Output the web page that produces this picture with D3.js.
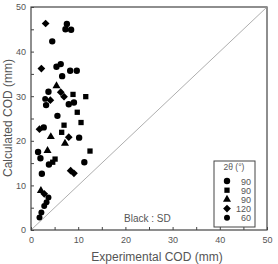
<!DOCTYPE html>
<html>
<head>
<meta charset="utf-8">
<script src="https://cdn.jsdelivr.net/npm/d3@7"></script>
<style>
  body { margin: 0; background: #fff; }
  svg text { font-family: "Liberation Sans", Arial, sans-serif; fill: #555; }
</style>
</head>
<body>
<div id="chart"></div>
<script>
// series: [experimental, calculated]
var circle90 = [[7.6,46.2],[7.3,45.0],[8.5,44.9],[4.5,42.3],[5.4,36.6],[6.3,37.2],[6.6,34.5],
    [8.3,35.7],[9.7,35.7],[3.7,31.0],[3.2,28.0],[8.0,28.2],[9.1,28.6],[5.6,25.6],[2.7,23.0],
    [10.2,20.7],[1.5,17.5],[2.0,16.1],[3.8,14.7],[11.3,15.2],[2.3,12.6]];
var square90 = [[8.9,30.4],[11.6,29.9],[9.8,26.4],[10.6,24.1],[7.0,23.5],[6.5,21.9],[12.5,17.7],
    [5.1,15.9],[4.6,15.2]];
var triangle90 = [[5.4,32.3],[4.2,20.9],[7.2,19.4],[3.5,17.8],[2.1,8.8]];
var diamond120 = [[3.1,46.3],[2.2,36.2],[6.3,30.9],[7.0,29.9],[4.1,29.1],[1.8,22.6],[8.0,20.8],
    [8.4,13.3],[9.1,12.7],[2.8,8.1]];
var hex60 = [[3.0,29.4],[3.7,7.3],[3.3,6.2],[2.8,5.4],[2.2,3.9],[1.8,2.8]];

var legendLabels = ["90", "90", "90", "120", "60"];

function drawChart() {
    var w = 278, h = 264;
    var padLeft = 31, padRight = 267, padTop = 7, padBottom = 230;

    var svg = d3.select("#chart").append("svg")
        .attr("width", w)
        .attr("height", h);

    var xScale = d3.scaleLinear().domain([0, 50]).range([padLeft, padRight]);
    var yScale = d3.scaleLinear().domain([0, 50]).range([padBottom, padTop]);

//frame
    svg.append("rect")
        .attr("x", padLeft).attr("y", padTop)
        .attr("width", padRight - padLeft).attr("height", padBottom - padTop)
        .attr("fill", "none").attr("stroke", "#444").attr("stroke-width", 1.2);

//1:1 line
    svg.append("line")
        .attr("x1", xScale(0)).attr("y1", yScale(0))
        .attr("x2", xScale(50)).attr("y2", yScale(50))
        .attr("stroke", "#999").attr("stroke-width", 0.8);

//axes, ticks every 5 pointing inward, labels every 10
    var fmt = function (d) { return d % 10 === 0 ? d : ""; };
    var xAxis = d3.axisBottom(xScale).tickValues(d3.range(0, 51, 5))
        .tickSize(-3).tickPadding(7).tickFormat(fmt);
    var yAxis = d3.axisLeft(yScale).tickValues(d3.range(0, 51, 5))
        .tickSize(-3).tickPadding(5).tickFormat(fmt);

    var gx = svg.append("g")
        .attr("transform", "translate(0," + padBottom + ")")
        .call(xAxis);
    var gy = svg.append("g")
        .attr("transform", "translate(" + padLeft + ",0)")
        .call(yAxis);
    [gx, gy].forEach(function (g) {
        g.select(".domain").remove();
        g.selectAll("line").attr("stroke", "#444");
        g.selectAll("text").style("font-size", "9px").attr("fill", "#666");
    });

//markers
    var series = [
        {data: circle90, type: d3.symbolCircle, size: 32, rot: 0},
        {data: square90, type: d3.symbolSquare, size: 28, rot: 0},
        {data: triangle90, type: d3.symbolTriangle, size: 28, rot: 0},
        {data: diamond120, type: d3.symbolSquare, size: 30, rot: 45},
        {data: hex60, type: d3.symbolCircle, size: 28, rot: 0}
    ];

    series.forEach(function (s) {
        svg.append("g").selectAll("path")
            .data(s.data)
            .enter()
            .append("path")
            .attr("d", d3.symbol().type(s.type).size(s.size))
            .attr("transform", function (d) {
                return "translate(" + xScale(d[0]) + "," + yScale(d[1]) + ") rotate(" + s.rot + ")";
            })
            .attr("fill", "#000");
    });

//annotation
    svg.append("text")
        .attr("x", 124).attr("y", 222)
        .style("font-size", "10px")
        .text("Black : SD");

//legend
    var lg = svg.append("g");
    lg.append("rect")
        .attr("x", 214).attr("y", 161)
        .attr("width", 41).attr("height", 66)
        .attr("fill", "#fff").attr("stroke", "#444").attr("stroke-width", 1);
    lg.append("text")
        .attr("x", 234).attr("y", 170)
        .attr("text-anchor", "middle")
        .style("font-size", "8.5px")
        .text("2\u03b8 (\u00b0)");
    legendLabels.forEach(function (lab, i) {
        var yy = 181 + i * 9.2;
        lg.append("path")
            .attr("d", d3.symbol().type(series[i].type).size(series[i].size))
            .attr("transform", "translate(227," + yy + ") rotate(" + series[i].rot + ")")
            .attr("fill", "#000");
        lg.append("text")
            .attr("x", 251).attr("y", yy + 3.5)
            .attr("text-anchor", "end")
            .style("font-size", "9px")
            .text(lab);
    });

//axis titles
    svg.append("text")
        .attr("x", 157).attr("y", 261)
        .attr("text-anchor", "middle")
        .style("font-size", "12px")
        .text("Experimental COD (mm)");

    svg.append("text")
        .attr("transform", "rotate(-90)")
        .attr("x", -118).attr("y", 12)
        .attr("text-anchor", "middle")
        .style("font-size", "12px")
        .text("Calculated COD (mm)");
}

drawChart();
</script>
</body>
</html>
